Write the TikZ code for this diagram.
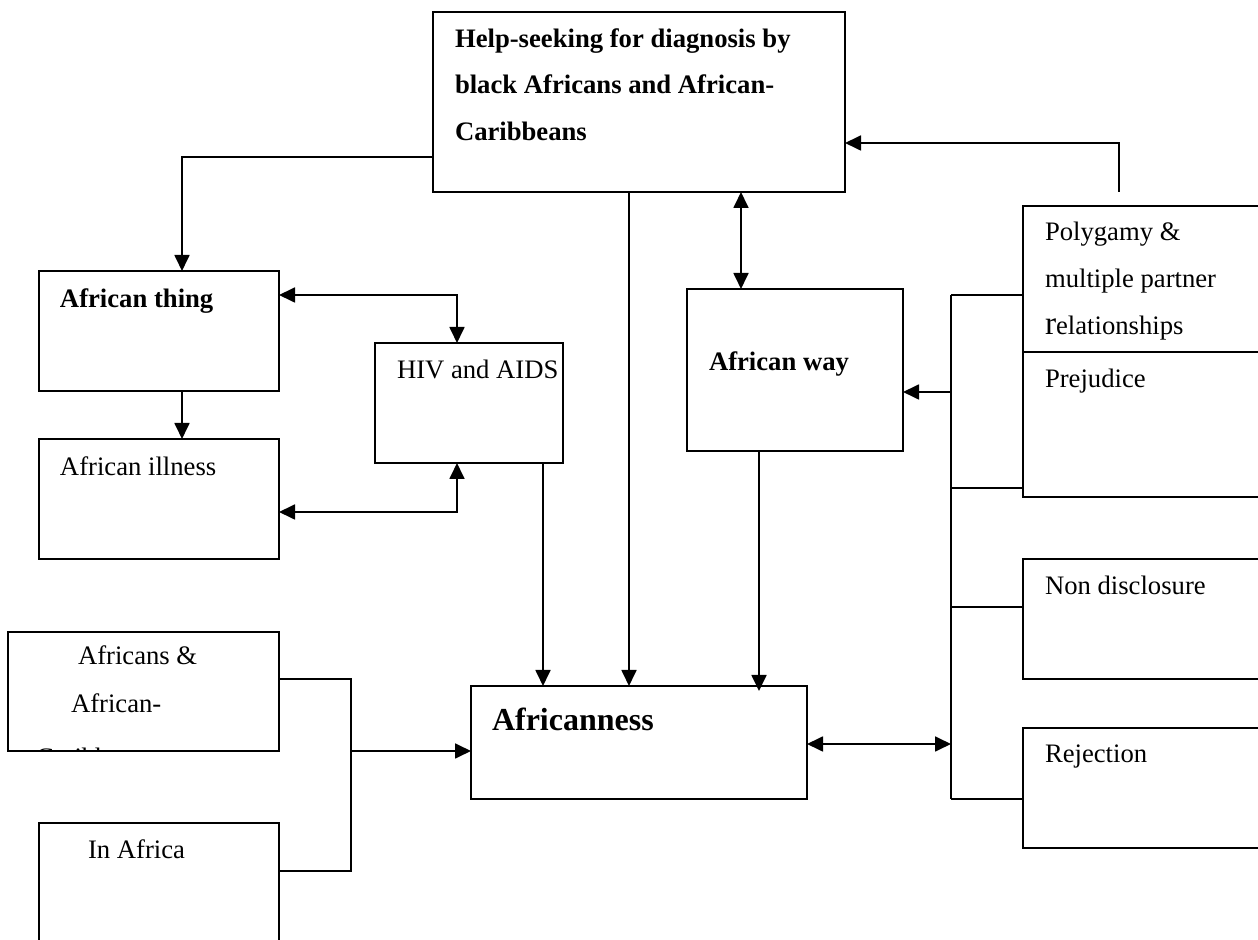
\documentclass[tikz,border=0pt]{standalone}
\usepackage{fontspec}
\setmainfont{Liberation Serif}
\usetikzlibrary{arrows.meta}
\newcommand{\px}{0.375pt}

\begin{document}
\begin{tikzpicture}[x=0.375pt, y=-0.375pt, line width=0.75pt,
  box/.style={draw, inner sep=0pt, outer sep=0pt},
  txt/.style={anchor=base west, inner sep=0pt, font=\fontsize{10}{12}\selectfont},
  arr/.style={-{Triangle[length=6pt,width=5.6pt]}},
  dbl/.style={{Triangle[length=6pt,width=5.6pt]}-{Triangle[length=6pt,width=5.6pt]}}]
\clip (0,0) rectangle (1258,940);
% boxes
\node[box, minimum width=412*\px, minimum height=180*\px] (help) at (639,102) {};
\node[box, minimum width=240*\px, minimum height=120*\px] (thing) at (159,331) {};
\node[box, minimum width=240*\px, minimum height=120*\px] (illness) at (159,499) {};
\node[box, minimum width=188*\px, minimum height=120*\px] (hiv) at (469,403) {};
\node[box, minimum width=216*\px, minimum height=162*\px] (way) at (795,370) {};
\node[box, minimum width=336*\px, minimum height=113*\px] (afr) at (639,742.5) {};
\node[box, minimum width=267*\px, minimum height=146*\px] (poly) at (1156.5,279) {};
\node[box, minimum width=267*\px, minimum height=145*\px] (prej) at (1156.5,424.5) {};
\node[box, minimum width=267*\px, minimum height=120*\px] (nondis) at (1156.5,619) {};
\node[box, minimum width=267*\px, minimum height=120*\px] (rej) at (1156.5,788) {};
\node[box, minimum width=271*\px, minimum height=119*\px] (africans) at (143.5,691.5) {};
\node[box, minimum width=240*\px, minimum height=137*\px] (inafrica) at (159,891.5) {};
% texts
\node[txt, font=\fontsize{10}{12}\selectfont\bfseries] (help1) at (454,48) {Help-seeking for diagnosis by};
\node[txt, font=\fontsize{10}{12}\selectfont\bfseries] (help2) at (454,94) {black Africans and African-};
\node[txt, font=\fontsize{10}{12}\selectfont\bfseries] (help3) at (454,141) {Caribbeans};
\node[txt, font=\fontsize{10}{12}\selectfont\bfseries] (thingt) at (59,308) {African thing};
\node[txt] (illnesst) at (59,476) {African illness};
\node[txt] (hivt) at (396,379) {HIV and AIDS};
\node[txt, font=\fontsize{10}{12}\selectfont\bfseries] (wayt) at (708,371) {African way};
\node[txt, font=\fontsize{12}{14}\selectfont\bfseries] (afrt) at (491,731) {Africanness};
\node[txt] (poly1) at (1044,241) {Polygamy \&};
\node[txt] (poly2) at (1044,288) {multiple partner};
\node[txt] (poly3) at (1044,335) {{\fontsize{12.5}{14}\selectfont r}elationships};
\node[txt] (prejt) at (1044,388) {Prejudice};
\node[txt] (nondist) at (1044,595) {Non disclosure};
\node[txt] (rejt) at (1044,763) {Rejection};
\node[txt] (africans1) at (77,665) {Africans \&};
\node[txt] (africans2) at (70,713) {African-};
\begin{scope}
  \clip (africans.south west) rectangle (africans.north east);
  \node[txt] (africans3) at (35,767) {Caribbeans};
\end{scope}
\node[txt] (inafricat) at (87,859) {In Africa};
% connectors
\draw[arr] ([shift={(0,-35)}]help.south west) -| ([shift={(23,0)}]thing.north);
\draw[arr] ([shift={(-10,0)}]help.south) -- ([shift={(-10,0)}]afr.north);
\draw[dbl] ([shift={(102,0)}]help.south) -- ([shift={(-54,0)}]way.north);
\coordinate (stub) at ([shift={(-37.5,-14)}]poly.north);
\draw[arr] (stub) |- ([shift={(0,41)}]help.east);
\draw[arr] ([shift={(23,0)}]thing.south) -- ([shift={(23,0)}]illness.north);
\draw[dbl] ([shift={(0,-36)}]thing.east) -| ([shift={(-12,0)}]hiv.north);
\draw[dbl] ([shift={(0,13)}]illness.east) -| ([shift={(-12,0)}]hiv.south);
\draw[arr] ([shift={(74,0)}]hiv.south) -- ([shift={(-96,0)}]afr.north);
\draw[arr] ([shift={(-36,0)}]way.south) -- ([shift={(120,5)}]afr.north);
% right bus
\coordinate (r1) at (951,295);
\coordinate (r2) at (951,392);
\coordinate (r3) at (951,488);
\coordinate (r4) at (951,607);
\coordinate (r5) at (951,744);
\coordinate (r6) at (951,799);
\draw (r1) -- (r6);
\draw (r1) -- (r1 -| poly.west);
\draw (r3) -- (r3 -| prej.west);
\draw (r4) -- (r4 -| nondis.west);
\draw (r6) -- (r6 -| rej.west);
\draw[arr] (r2) -- (r2 -| way.east);
\draw[dbl] (afr.east |- r5) -- (r5);
% left bus
\coordinate (l1) at (351,679);
\coordinate (l2) at (351,871);
\coordinate (l3) at (351,751);
\draw (africans.east |- l1) -- (l1) -- (l2) -- (inafrica.east |- l2);
\draw[arr] (l3) -- (afr.west |- l3);
\end{tikzpicture}
\end{document}
